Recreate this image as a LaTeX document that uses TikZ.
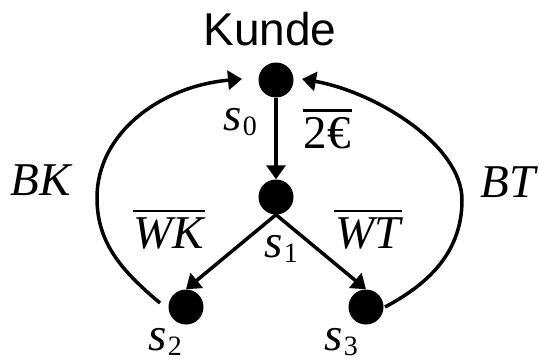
\documentclass[tikz,border=0pt]{standalone}
\usepackage{fontspec}
\setmainfont{Liberation Serif}
\newfontfamily\kundefont{Liberation Sans}
\usetikzlibrary{arrows.meta}
\newcommand\ovl[1]{\vbox{\hrule height 2.4pt\kern 5pt\hbox{\kern1pt#1\kern1pt}}}
\newcommand\stl[1]{\textit{s}\kern1.5pt\raisebox{-5pt}{\fontsize{28}{28}\selectfont\upshape #1}}
\begin{document}
\begin{tikzpicture}[x=1pt,y=1pt,
  dot/.style={circle, fill=black, minimum size=35pt, inner sep=0pt},
  arr/.style={line width=3.5pt, -{Triangle[width=19pt,length=14pt]}},
  lab/.style={anchor=base, inner sep=0pt, font=\fontsize{47}{54}\selectfont\itshape}]
\useasboundingbox (0,0) rectangle (539,360);
% states
\node[dot] (s0) at (276,280) {};
\node[dot] (s1) at (276,163) {};
\node[dot] (s2) at (186,53) {};
\node[dot] (s3) at (366,53) {};
% free ends of the return arcs
\coordinate (c2s) at (160,57);
\coordinate (c3s) at (385,53);
\coordinate (c0l) at (242,281);
\coordinate (c0r) at (302,281);
% labels
\node[anchor=base, inner sep=0pt, font=\kundefont\fontsize{46}{54}\selectfont] (kunde) at (270,315) {Kunde};
\node[lab] (l0) at (240,230) {\stl{0}};
\node[lab] (l1) at (281,103) {\stl{1}};
\node[lab] (l2) at (165,10) {\stl{2}};
\node[lab] (l3) at (341,10) {\stl{3}};
\node[lab] (bk) at (41,165) {BK};
\node[lab] (bt) at (508,163) {BT};
\node[lab] (wk) at (169,112) {\ovl{WK}};
\node[lab] (wt) at (368,112) {\ovl{WT}};
\node[lab, font=\fontsize{47}{54}\selectfont\upshape] (euro) at (327,212) {\ovl{2€}};
% transitions
\draw[arr] (s0) -- (s1);
\draw[arr] (s1.south) -- (s2.north);
\draw[arr] (s1.south) -- (s3.north);
\draw[arr] (c2s) .. controls (121.7,89.2) and (97,117) .. (97,162)
  .. controls (97,228) and (162,274) .. (c0l);
\draw[arr] (c3s) .. controls (424.7,74.2) and (462,105) .. (462,160)
  .. controls (462,215) and (375.6,268) .. (c0r);
\end{tikzpicture}
\end{document}
